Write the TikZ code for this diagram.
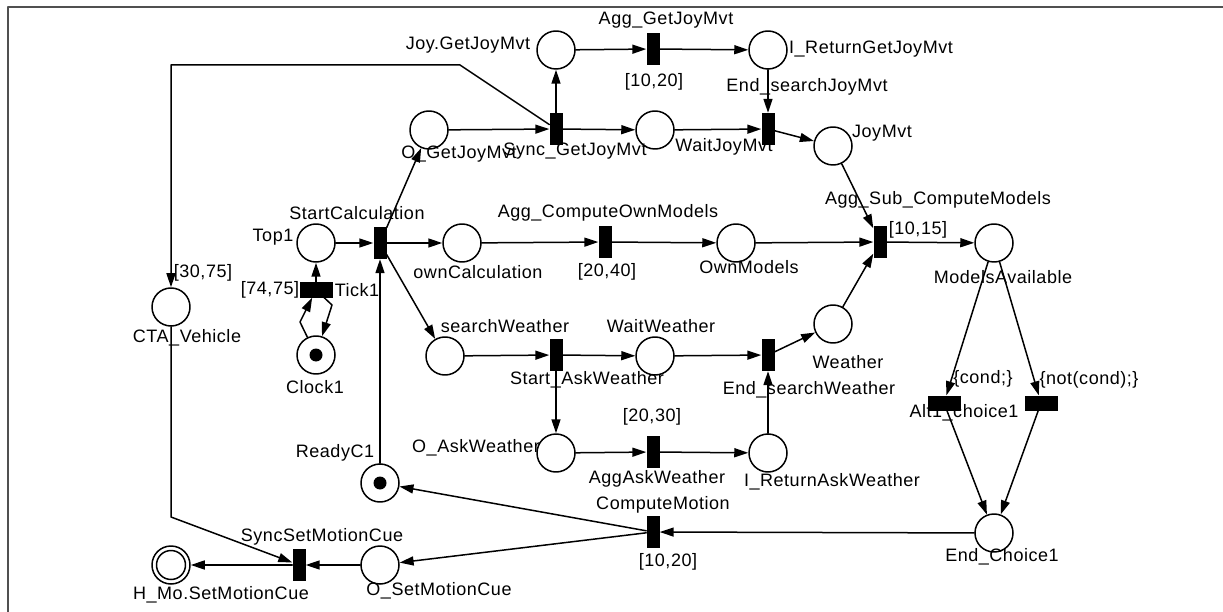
\documentclass[tikz,border=0pt]{standalone}
\usepackage{fontspec}
\setmainfont{Liberation Sans}[LetterSpace=3]
\usetikzlibrary{arrows.meta}
\definecolor{framegray}{RGB}{80,80,80}

\begin{document}
\begin{tikzpicture}[x=1pt,y=-1pt,line cap=round,line join=round,>={Triangle[length=14pt,width=9pt]}]
\tikzset{place/.style={draw,circle,line width=1.5pt,minimum size=38pt,inner sep=0pt},
  trans/.style={fill=black,rectangle,minimum width=13pt,minimum height=32pt,inner sep=0pt},
  htrans/.style={fill=black,rectangle,minimum width=33pt,minimum height=15pt,inner sep=0pt},
  arc/.style={->,line width=1.5pt},
  lab/.style={font=\fontsize{18}{21}\selectfont,inner sep=0pt}}
\useasboundingbox (0,0) rectangle (1223,612);
\draw[framegray,line width=1.2pt] (8,612)--(8,7)--(1223,7);

% places
\node[place] (Top1) at (316,243) {};
\node[place] (CTA) at (171,307) {};
\node[place] (Clock1) at (316,355) {};
\node[place] (ReadyC1) at (380,483) {};
\node[place] (HMo) at (171,565) {};
\node[place] (OSetMC) at (380,565) {};
\node[place] (OGetJoy) at (429,130) {};
\node[place] (JoyGet) at (556,50) {};
\node[place] (IRetJoy) at (768,50) {};
\node[place] (WaitJoy) at (655,130) {};
\node[place] (JoyMvt) at (833,146) {};
\node[place] (ownCalc) at (462,243) {};
\node[place] (OwnModels) at (736,243) {};
\node[place] (ModelsAv) at (994,243) {};
\node[place] (searchW) at (445,356) {};
\node[place] (WaitW) at (655,356) {};
\node[place] (Weather) at (833,324) {};
\node[place] (OAskW) at (556,453) {};
\node[place] (IRetAskW) at (768,453) {};
\node[place] (EndChoice) at (994,533) {};
\fill (Clock1) circle (6.5pt);
\fill (ReadyC1) circle (6.5pt);
\draw[line width=1.5pt] (HMo) circle (14.5pt);

% transitions
\node[trans] (StartCalc) at (380,243) {};
\node[trans] (SyncJoy) at (556,129) {};
\node[trans] (AggJoy) at (653,49) {};
\node[trans] (EndJoy) at (768,129) {};
\node[trans] (AggOwn) at (605,242) {};
\node[trans] (AggSub) at (880,242) {};
\node[trans] (StartAskW) at (556,355) {};
\node[trans] (EndW) at (768,355) {};
\node[trans] (AggAskW) at (653,452) {};
\node[trans] (CompMot) at (653,532) {};
\node[trans] (SyncSetMC) at (299,565) {};
\node[htrans] (Tick1) at (316,290) {};
\node[htrans] (Alt1) at (944,403) {};
\node[htrans] (Alt2) at (1041,403) {};

% bends
\coordinate (ckL) at (300,322);
\coordinate (ckR) at (332,305);
\coordinate (jb1) at (460,65);
\coordinate (jb2) at (171,65);
\coordinate (cb) at (171,517);

% arcs
\draw[arc] (Top1)--(StartCalc);
\draw[arc] (Tick1)--(Top1);
\draw[arc] (Clock1)--(ckL)--(Tick1);
\draw[arc] (Tick1)--(ckR)--(Clock1);
\draw[arc] (ReadyC1)--(StartCalc);
\draw[arc] (StartCalc)--(OGetJoy);
\draw[arc] (StartCalc)--(ownCalc);
\draw[arc] (StartCalc)--(searchW);
\draw[arc] (OGetJoy)--(SyncJoy);
\draw[arc] (SyncJoy)--(JoyGet);
\draw[arc] (SyncJoy)--(WaitJoy);
\draw[arc] (SyncJoy)--(jb1)--(jb2)--(CTA);
\draw[arc] (JoyGet)--(AggJoy);
\draw[arc] (AggJoy)--(IRetJoy);
\draw[arc] (IRetJoy)--(EndJoy);
\draw[arc] (WaitJoy)--(EndJoy);
\draw[arc] (EndJoy)--(JoyMvt);
\draw[arc] (JoyMvt)--(AggSub);
\draw[arc] (ownCalc)--(AggOwn);
\draw[arc] (AggOwn)--(OwnModels);
\draw[arc] (OwnModels)--(AggSub);
\draw[arc] (Weather)--(AggSub);
\draw[arc] (AggSub)--(ModelsAv);
\draw[arc] (ModelsAv)--(Alt1);
\draw[arc] (ModelsAv)--(Alt2);
\draw[arc] (Alt1)--(EndChoice);
\draw[arc] (Alt2)--(EndChoice);
\draw[arc] (EndChoice)--(CompMot);
\draw[arc] (CompMot)--(ReadyC1);
\draw[arc] (CompMot)--(OSetMC);
\draw[arc] (OSetMC)--(SyncSetMC);
\draw[arc] (SyncSetMC)--(HMo);
\draw[arc] (CTA)--(cb)--(SyncSetMC);
\draw[arc] (searchW)--(StartAskW);
\draw[arc] (StartAskW)--(WaitW);
\draw[arc] (StartAskW)--(OAskW);
\draw[arc] (WaitW)--(EndW);
\draw[arc] (EndW)--(Weather);
\draw[arc] (OAskW)--(AggAskW);
\draw[arc] (AggAskW)--(IRetAskW);
\draw[arc] (IRetAskW)--(EndW);

% labels
\node[lab] (lJoyGet) at (468,45) {Joy.GetJoyMvt};
\node[lab] (lAggJoy) at (666,20) {Agg\_GetJoyMvt};
\node[lab] (tAggJoy) at (654,82) {[10,20]};
\node[lab] (lIRetJoy) at (871,49) {I\_ReturnGetJoyMvt};
\node[lab] (lEndJoy) at (807,87) {End\_searchJoyMvt};
\node[lab] (lJoyMvt) at (882,133) {JoyMvt};
\node[lab] (lOGetJoy) at (459,154) {O\_GetJoyMvt};
\node[lab] (lSyncJoy) at (575,151) {Sync\_GetJoyMvt};
\node[lab] (lWaitJoy) at (724,147) {WaitJoyMvt};
\node[lab] (lStartCalc) at (357,213) {StartCalculation};
\node[lab] (lTop1) at (273,237) {Top1};
\node[lab] (lAggOwn) at (608,213) {Agg\_ComputeOwnModels};
\node[lab] (lownCalc) at (478,272) {ownCalculation};
\node[lab] (tAggOwn) at (607,272) {[20,40]};
\node[lab] (lOwnModels) at (749,267) {OwnModels};
\node[lab] (lAggSub) at (938,200) {Agg\_Sub\_ComputeModels};
\node[lab] (tAggSub) at (918,230) {[10,15]};
\node[lab] (lModelsAv) at (1003,277) {ModelsAvailable};
\node[lab] (tCTA) at (203,273) {[30,75]};
\node[lab] (tTick1) at (270,290) {[74,75]};
\node[lab] (lTick1) at (357,290) {Tick1};
\node[lab] (lCTA) at (187,338) {CTA\_Vehicle};
\node[lab] (lClock1) at (315,387) {Clock1};
\node[lab] (lReadyC1) at (335,453) {ReadyC1};
\node[lab] (lSyncSetMC) at (322,537) {SyncSetMotionCue};
\node[lab] (lHMo) at (221,595) {H\_Mo.SetMotionCue};
\node[lab] (lOSetMC) at (439,591) {O\_SetMotionCue};
\node[lab] (lsearchW) at (505,326) {searchWeather};
\node[lab] (lWaitW) at (661,326) {WaitWeather};
\node[lab] (lStartAskW) at (587,380) {Start\_AskWeather};
\node[lab] (lEndW) at (809,390) {End\_searchWeather};
\node[lab] (lWeather) at (848,362) {Weather};
\node[lab] (tAggAskW) at (652,417) {[20,30]};
\node[lab] (lOAskW) at (476,448) {O\_AskWeather};
\node[lab] (lAggAskW) at (657,479) {AggAskWeather};
\node[lab] (lIRetAskW) at (832,482) {I\_ReturnAskWeather};
\node[lab] (lCompMot) at (663,505) {ComputeMotion};
\node[lab] (tCompMot) at (668,562) {[10,20]};
\node[lab] (gAlt1) at (983,379) {\{cond;\}};
\node[lab] (gAlt2) at (1089,380) {\{not(cond);\}};
\node[lab] (lAlt1) at (964,413) {Alt1\_choice1};
\node[lab] (lEndChoice) at (1002,557) {End\_Choice1};
\end{tikzpicture}
\end{document}
